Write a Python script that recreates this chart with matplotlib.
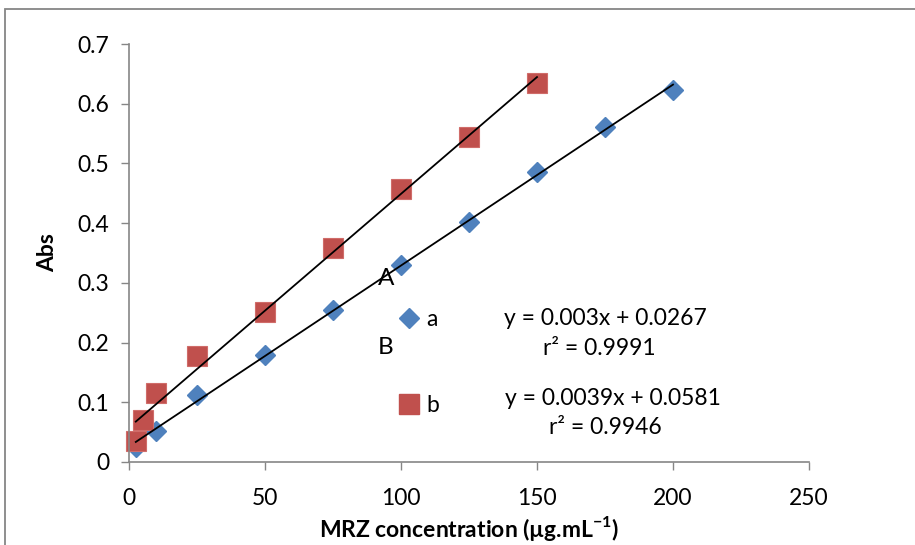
import matplotlib.pyplot as plt
import numpy as np
from matplotlib.lines import Line2D
from matplotlib.patches import Rectangle

plt.rcParams['font.family'] = ['Lato', 'DejaVu Sans']
plt.rcParams['mathtext.fontset'] = 'custom'
plt.rcParams['mathtext.rm'] = 'Lato'
plt.rcParams['mathtext.bf'] = 'Lato:bold'

# series a (blue diamonds)
conc_a = [2.5, 10, 25, 50, 75, 100, 125, 150, 175, 200]
abs_a = [0.025, 0.052, 0.112, 0.179, 0.255, 0.330, 0.402, 0.486, 0.561, 0.623]
# series b (red squares)
conc_b = [2.5, 5, 10, 25, 50, 75, 100, 125, 150]
abs_b = [0.035, 0.070, 0.115, 0.178, 0.251, 0.358, 0.457, 0.544, 0.635]

eq_a = ['y = 0.003x + 0.0267', 'r² = 0.9991']
eq_b = ['y = 0.0039x + 0.0581', 'r² = 0.9946']

x_ticks = [0, 50, 100, 150, 200, 250]
y_ticks = [0, 0.1, 0.2, 0.3, 0.4, 0.5, 0.6, 0.7]

blue = '#4F81BD'
red = '#C0504D'
grey = '#868686'
fs = 16.5

fig = plt.figure(figsize=(9.15, 5.45), dpi=100)
ax = fig.add_axes([129 / 915, 1 - 462 / 545, 680 / 915, 418 / 545])

# outer chart frame
fig.patches.append(Rectangle((5 / 915, -0.1), 1.2, 1.1 - 9 / 545, transform=fig.transFigure,
                             fill=False, edgecolor=grey, lw=1.3, zorder=0))

ax.plot(conc_a, abs_a, 'D', color=blue, ms=10.5, mec=blue, zorder=2, clip_on=False)
ax.plot(conc_b, abs_b, 's', color=red, ms=14, mec='#D06C69', mew=0.8, zorder=2, clip_on=False)

# linear trendlines
for xs, ys in ((conc_a, abs_a), (conc_b, abs_b)):
    k, b = np.polyfit(xs, ys, 1)
    xx = np.array([min(xs), max(xs)])
    ax.plot(xx, k * xx + b, color='black', lw=1.3, zorder=3)

ax.set_xlim(0, 250)
ax.set_ylim(0, 0.7)
ax.set_xticks(x_ticks)
ax.set_xticklabels([str(t) for t in x_ticks])
ax.set_yticks(y_ticks)
ax.set_yticklabels(['0'] + [f'{t:.1f}' for t in y_ticks[1:]])
ax.tick_params(labelsize=fs, length=6, width=1, color=grey, pad=8, direction='out')
ax.tick_params(axis='x', pad=13)
for side in ('top', 'right'):
    ax.spines[side].set_visible(False)
for side in ('left', 'bottom'):
    ax.spines[side].set_color(grey)
    ax.spines[side].set_linewidth(1.2)

ax.set_xlabel(r'MRZ concentration (µg.mL$^{\mathbf{-1}}$)', fontsize=fs, fontweight='bold', labelpad=3)
ax.set_ylabel('Abs', fontsize=fs, fontweight='bold', labelpad=14)

handles = [Line2D([], [], ls='none', marker='D', color=blue, ms=10),
           Line2D([], [], ls='none', marker='s', color=red, ms=14)]
ax.legend(handles, ['a', 'b'], loc='upper left', bbox_to_anchor=(0.366, 0.415), frameon=False,
          fontsize=fs, labelspacing=2.83, handlelength=0.9, handletextpad=0.3)

ax.text(94.5, 0.307, 'A', fontsize=fs + 1, ha='center', va='center')
ax.text(94.5, 0.191, 'B', fontsize=fs + 1, ha='center', va='center')
ax.text(175, 0.241, eq_a[0], fontsize=fs, ha='center', va='center')
ax.text(173, 0.190, eq_a[1], fontsize=fs, ha='center', va='center')
ax.text(178, 0.107, eq_b[0], fontsize=fs, ha='center', va='center')
ax.text(175, 0.058, eq_b[1], fontsize=fs, ha='center', va='center')

fig.savefig('out.png', dpi=100)
